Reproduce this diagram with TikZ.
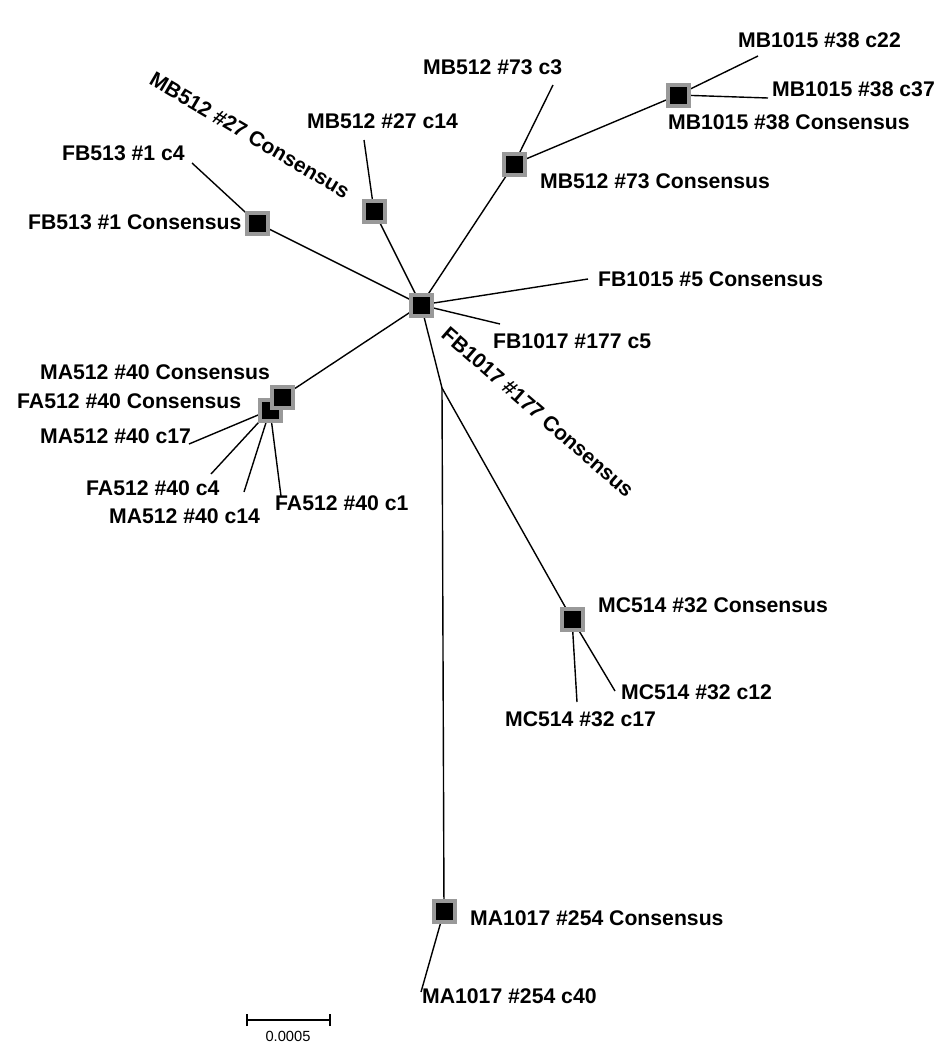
\documentclass[tikz,border=0pt]{standalone}
\usepackage{fontspec}
\setmainfont{Liberation Sans}
\usetikzlibrary{backgrounds}
\tikzset{
  otu/.style={draw=black!40, line width=4pt, fill=black, minimum size=21pt, inner sep=0pt, outer sep=0pt},
  lbl/.style={font=\fontsize{21.2}{23}\selectfont\bfseries, inner sep=0pt, text height=15pt, text depth=0pt, anchor=west},
  rlbl/.style={font=\fontsize{21}{23}\selectfont\bfseries, inner sep=0pt, text height=15pt, text depth=0pt, anchor=center},
  branch/.style={line width=1.4pt, black},
}
\begin{document}
\begin{tikzpicture}[x=1pt,y=-1pt]
\useasboundingbox (0,0) rectangle (948,1050);
% internal nodes / boxes
\node[otu] (hub) at (421,305) {};
\node[otu] (fb513) at (257,223) {};
\node[otu] (mb27) at (374,211) {};
\node[otu] (mb73) at (514,164) {};
\node[otu] (mb38) at (678,95) {};
\node[otu] (mc32) at (572,619) {};
\node[otu] (ma254) at (444,911) {};
\node[otu] (fa40) at (270,410) {};
\node[otu] (ma40) at (282,397) {};
\coordinate (j) at (442,388);
% leaves
\coordinate (fb513c4) at (192,163);
\coordinate (mb27c14) at (364,140);
\coordinate (mb73c3) at (553,85);
\coordinate (mb38c22) at (758,56);
\coordinate (mb38c37) at (768,98);
\coordinate (fb5) at (588,279);
\coordinate (fb177c5) at (500,324);
\coordinate (mc32c12) at (615,691);
\coordinate (mc32c17) at (577,702);
\coordinate (ma254c40) at (421,992);
\coordinate (ma40c17) at (189,444);
\coordinate (fa40c4) at (211,474);
\coordinate (ma40c14) at (244,492);
\coordinate (fa40c1) at (281,496);
\begin{scope}[on background layer]
\draw[branch] (hub.center) -- (fb513.center) -- (fb513c4);
\draw[branch] (hub.center) -- (mb27.center) -- (mb27c14);
\draw[branch] (hub.center) -- (mb73.center) -- (mb73c3);
\draw[branch] (mb73.center) -- (mb38.center) -- (mb38c22);
\draw[branch] (mb38.center) -- (mb38c37);
\draw[branch] (hub.center) -- (fb5);
\draw[branch] (hub.center) -- (fb177c5);
\draw[branch] (hub.center) -- (j) -- (mc32.center) -- (mc32c12);
\draw[branch] (mc32.center) -- (mc32c17);
\draw[branch] (j) -- (ma254.center) -- (ma254c40);
\draw[branch] (hub.center) -- (ma40.center) -- (fa40.center);
\draw[branch] (fa40.center) -- (ma40c17);
\draw[branch] (fa40.center) -- (fa40c4);
\draw[branch] (fa40.center) -- (ma40c14);
\draw[branch] (fa40.center) -- (fa40c1);
\end{scope}
% labels
\node[lbl] (l1) at (738,40) {MB1015 \#38 c22};
\node[lbl] (l2) at (772,89) {MB1015 \#38 c37};
\node[lbl] (l3) at (668,122) {MB1015 \#38 Consensus};
\node[lbl] (l4) at (423,67) {MB512 \#73 c3};
\node[lbl] (l5) at (540,181) {MB512 \#73 Consensus};
\node[lbl] (l6) at (307,121) {MB512 \#27 c14};
\node[rlbl, rotate=-30.5] (l7) at (250,135) {MB512 \#27 Consensus};
\node[lbl] (l8) at (62,153) {FB513 \#1 c4};
\node[lbl] (l9) at (28,222) {FB513 \#1 Consensus};
\node[lbl] (l10) at (598,279) {FB1015 \#5 Consensus};
\node[lbl] (l11) at (493,341) {FB1017 \#177 c5};
\node[rlbl, rotate=-41] (l12) at (538,412) {FB1017 \#177 Consensus};
\node[lbl] (l13) at (40,372) {MA512 \#40 Consensus};
\node[lbl] (l14) at (17,401) {FA512 \#40 Consensus};
\node[lbl] (l15) at (40,436) {MA512 \#40 c17};
\node[lbl] (l16) at (86,488) {FA512 \#40 c4};
\node[lbl] (l17) at (109,516) {MA512 \#40 c14};
\node[lbl] (l18) at (275,503) {FA512 \#40 c1};
\node[lbl] (l19) at (598,605) {MC514 \#32 Consensus};
\node[lbl] (l20) at (621,692) {MC514 \#32 c12};
\node[lbl] (l21) at (505,719) {MC514 \#32 c17};
\node[lbl] (l22) at (470,918) {MA1017 \#254 Consensus};
\node[lbl] (l23) at (422,996) {MA1017 \#254 c40};
% scale bar
\coordinate (sbl) at (247,1020);
\coordinate (sbr) at (330,1020);
\draw[line width=1.4pt] (sbl) -- (sbr);
\draw[line width=1.4pt] ([yshift=-6pt]sbl) -- ([yshift=6pt]sbl);
\draw[line width=1.4pt] ([yshift=-6pt]sbr) -- ([yshift=6pt]sbr);
\node[font=\fontsize{14.7}{16}\selectfont, inner sep=0pt] (sbt) at (288,1036) {0.0005};
\end{tikzpicture}
\end{document}
